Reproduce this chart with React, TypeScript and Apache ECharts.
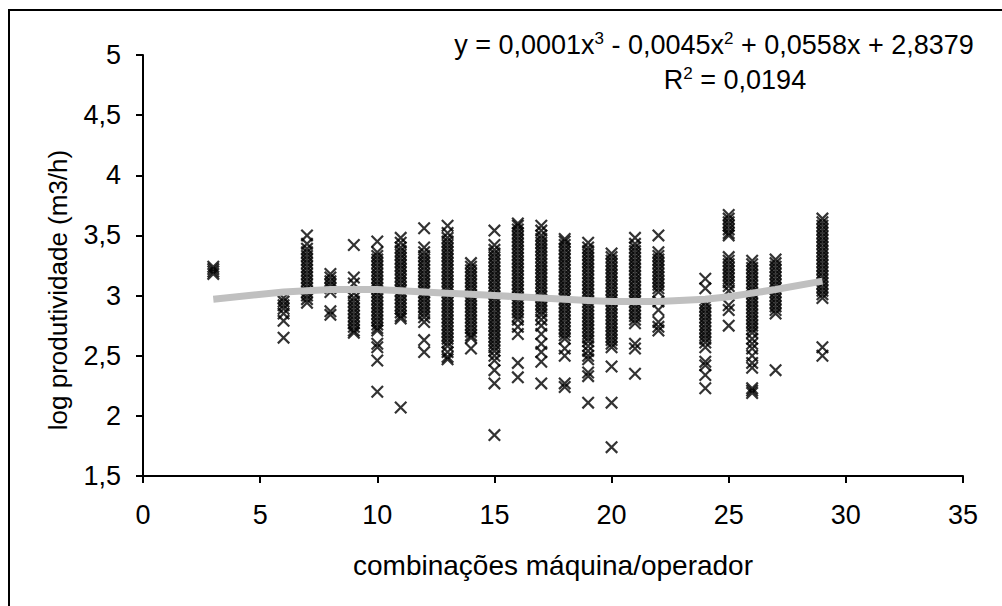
import React, { useEffect, useRef } from "react";
import * as echarts from "echarts";

// x categories (machine/operator combinations)
const xs = [3, 6, 7, 8, 9, 10, 11, 12, 13, 14, 15, 16, 17, 18, 19, 20, 21, 22, 24, 25, 26, 27, 29];

// log productivity values per combination
const y03 = [3.24, 3.22, 3.2, 3.18];
const y06 = [2.98, 2.95, 2.92, 2.89, 2.85, 2.79, 2.65];
const y07 = [3.5, 3.43, 3.39, 3.36, 3.33, 3.3, 3.27, 3.24, 3.21, 3.18, 3.15, 3.12, 3.09, 3.06, 3.03, 3.0, 2.97, 2.94];
const y08 = [3.18, 3.15, 3.12, 3.09, 3.06, 3.03, 2.87, 2.84];
const y09 = [3.42, 3.15, 3.1, 3.02, 2.98, 2.95, 2.92, 2.89, 2.86, 2.83, 2.8, 2.77, 2.74, 2.71, 2.69];
const y10 = [3.45, 3.36, 3.33, 3.3, 3.27, 3.24, 3.21, 3.18, 3.15, 3.12, 3.09, 3.06, 3.03, 3.0, 2.97, 2.94, 2.91, 2.88, 2.85, 2.82, 2.79, 2.76, 2.73, 2.71, 2.6, 2.57, 2.46, 2.2];
const y11 = [3.48, 3.44, 3.4, 3.37, 3.34, 3.31, 3.28, 3.25, 3.22, 3.19, 3.16, 3.13, 3.1, 3.07, 3.04, 3.01, 2.98, 2.95, 2.92, 2.89, 2.86, 2.83, 2.81, 2.07];
const y12 = [3.56, 3.4, 3.36, 3.33, 3.3, 3.27, 3.24, 3.21, 3.18, 3.15, 3.12, 3.09, 3.06, 3.03, 3.0, 2.97, 2.94, 2.91, 2.88, 2.85, 2.82, 2.78, 2.63, 2.53];
const y13 = [3.58, 3.52, 3.48, 3.45, 3.42, 3.39, 3.36, 3.33, 3.3, 3.27, 3.24, 3.21, 3.18, 3.15, 3.12, 3.09, 3.06, 3.03, 3.0, 2.97, 2.94, 2.91, 2.88, 2.85, 2.82, 2.79, 2.76, 2.73, 2.7, 2.67, 2.64, 2.61, 2.58, 2.53, 2.49, 2.47];
const y14 = [3.27, 3.24, 3.21, 3.18, 3.15, 3.12, 3.09, 3.06, 3.03, 3.0, 2.97, 2.94, 2.91, 2.88, 2.85, 2.82, 2.79, 2.76, 2.73, 2.7, 2.67, 2.65, 2.56];
const y15 = [3.54, 3.42, 3.38, 3.35, 3.32, 3.29, 3.26, 3.23, 3.2, 3.17, 3.14, 3.11, 3.08, 3.05, 3.02, 2.99, 2.96, 2.93, 2.9, 2.87, 2.84, 2.81, 2.78, 2.75, 2.72, 2.69, 2.66, 2.63, 2.6, 2.57, 2.54, 2.5, 2.46, 2.38, 2.27, 1.84];
const y16 = [3.6, 3.58, 3.55, 3.52, 3.49, 3.46, 3.43, 3.4, 3.37, 3.34, 3.31, 3.28, 3.25, 3.22, 3.19, 3.16, 3.13, 3.1, 3.07, 3.04, 3.01, 2.98, 2.95, 2.92, 2.89, 2.86, 2.83, 2.8, 2.74, 2.68, 2.44, 2.32];
const y17 = [3.58, 3.54, 3.5, 3.47, 3.44, 3.41, 3.38, 3.35, 3.32, 3.29, 3.26, 3.23, 3.2, 3.17, 3.14, 3.11, 3.08, 3.05, 3.02, 2.99, 2.96, 2.93, 2.9, 2.87, 2.84, 2.8, 2.75, 2.68, 2.6, 2.53, 2.45, 2.27];
const y18 = [3.47, 3.45, 3.42, 3.39, 3.36, 3.33, 3.3, 3.27, 3.24, 3.21, 3.18, 3.15, 3.12, 3.09, 3.06, 3.03, 3.0, 2.97, 2.94, 2.91, 2.88, 2.85, 2.82, 2.79, 2.76, 2.73, 2.7, 2.67, 2.64, 2.56, 2.5, 2.27, 2.24];
const y19 = [3.44, 3.4, 3.37, 3.34, 3.31, 3.28, 3.25, 3.22, 3.19, 3.16, 3.13, 3.1, 3.07, 3.04, 3.01, 2.98, 2.95, 2.92, 2.89, 2.86, 2.83, 2.8, 2.77, 2.74, 2.71, 2.68, 2.65, 2.62, 2.58, 2.54, 2.5, 2.47, 2.36, 2.33, 2.11];
const y20 = [3.35, 3.32, 3.29, 3.26, 3.23, 3.2, 3.17, 3.14, 3.11, 3.08, 3.05, 3.02, 2.99, 2.96, 2.93, 2.9, 2.87, 2.84, 2.81, 2.78, 2.75, 2.72, 2.69, 2.66, 2.63, 2.6, 2.57, 2.41, 2.11, 1.74];
const y21 = [3.48, 3.43, 3.4, 3.37, 3.34, 3.31, 3.28, 3.25, 3.22, 3.19, 3.16, 3.13, 3.1, 3.07, 3.04, 3.01, 2.98, 2.95, 2.92, 2.89, 2.86, 2.83, 2.8, 2.77, 2.6, 2.56, 2.35];
const y22 = [3.5, 3.36, 3.33, 3.3, 3.27, 3.24, 3.21, 3.18, 3.15, 3.12, 3.09, 3.06, 3.03, 2.95, 2.88, 2.78, 2.74, 2.71];
const y24 = [3.14, 3.06, 2.94, 2.91, 2.88, 2.85, 2.82, 2.79, 2.76, 2.73, 2.7, 2.67, 2.64, 2.61, 2.57, 2.45, 2.42, 2.34, 2.23];
const y25 = [3.67, 3.64, 3.61, 3.58, 3.55, 3.52, 3.5, 3.32, 3.29, 3.26, 3.23, 3.2, 3.17, 3.14, 3.11, 3.08, 3.04, 2.92, 2.88, 2.75];
const y26 = [3.29, 3.26, 3.23, 3.2, 3.17, 3.14, 3.11, 3.08, 3.05, 3.02, 2.99, 2.96, 2.93, 2.9, 2.87, 2.84, 2.81, 2.78, 2.75, 2.72, 2.69, 2.64, 2.6, 2.56, 2.5, 2.44, 2.4, 2.23, 2.21, 2.19];
const y27 = [3.3, 3.27, 3.24, 3.21, 3.18, 3.15, 3.12, 3.09, 3.06, 3.03, 3.0, 2.97, 2.94, 2.91, 2.88, 2.85, 2.38];
const y29 = [3.64, 3.61, 3.58, 3.55, 3.52, 3.49, 3.46, 3.43, 3.4, 3.37, 3.34, 3.31, 3.28, 3.25, 3.22, 3.19, 3.16, 3.13, 3.1, 3.07, 3.04, 3.01, 2.98, 2.57, 2.5];

const columns = [y03, y06, y07, y08, y09, y10, y11, y12, y13, y14, y15, y16, y17, y18, y19, y20, y21, y22, y24, y25, y26, y27, y29];

// polynomial trend line values read at each x category
const trendY = [2.97, 3.03, 3.04, 3.05, 3.05, 3.05, 3.04, 3.03, 3.02, 3.01, 3.0, 2.99, 2.98, 2.97, 2.96, 2.95, 2.95, 2.95, 2.97, 2.99, 3.02, 3.05, 3.12];

const equationText = "y = 0,0001x{s|3} - 0,0045x{s|2} + 0,0558x + 2,8379";
const r2Text = "R{s|2} = 0,0194";

const FONT = "'Liberation Sans', Arial, sans-serif";
const X_SYMBOL = "path://M0,12 L12,0 L100,88 L88,100 Z M88,0 L100,12 L12,100 L0,88 Z";

export default function App() {
  const ref = useRef<HTMLDivElement>(null);
  useEffect(() => {
    if (!ref.current) return;
    const chart = echarts.init(ref.current, null, { renderer: "svg" });
    const scatterData: number[][] = [];
    columns.forEach((col, i) => col.forEach((v) => scatterData.push([xs[i], v])));
    const trendData = xs.map((x, i) => [x, trendY[i]]);
    const sup = { fontSize: 17, verticalAlign: "top", lineHeight: 12, fontFamily: FONT, color: "#000" };
    chart.setOption({
      animation: false,
      backgroundColor: "#fff",
      grid: { left: 143, right: 39, top: 55, bottom: 130, containLabel: false },
      xAxis: {
        type: "value",
        min: 0,
        max: 35,
        interval: 5,
        name: "combinações máquina/operador",
        nameLocation: "middle",
        nameGap: 75,
        nameTextStyle: { fontSize: 28, color: "#000", fontFamily: FONT },
        axisLine: { show: true, onZero: false, lineStyle: { color: "#000", width: 2 } },
        axisTick: { show: true, length: 7, lineStyle: { color: "#000", width: 2 } },
        axisLabel: { fontSize: 27, color: "#000", fontFamily: FONT, margin: 25 },
        splitLine: { show: false },
      },
      yAxis: {
        type: "value",
        min: 1.5,
        max: 5,
        interval: 0.5,
        axisLine: { show: true, onZero: false, lineStyle: { color: "#000", width: 2 } },
        axisTick: { show: true, length: 7, lineStyle: { color: "#000", width: 2 } },
        axisLabel: {
          fontSize: 27,
          color: "#000",
          fontFamily: FONT,
          margin: 22,
          formatter: (v: number) => String(v).replace(".", ","),
        },
        splitLine: { show: false },
      },
      graphic: [
        {
          type: "rect",
          shape: { x: 9, y: 10, width: 1100, height: 700 },
          style: { fill: "none", stroke: "#000", lineWidth: 2 },
          silent: true,
        },
        {
          type: "text",
          x: 58,
          y: 290,
          rotation: Math.PI / 2,
          style: {
            text: "log produtividade (m3/h)",
            fontSize: 26,
            fontFamily: FONT,
            fill: "#000",
            align: "center",
            verticalAlign: "middle",
          },
        },
        {
          type: "text",
          x: 714,
          y: 45,
          style: {
            text: equationText,
            fontSize: 27,
            fontFamily: FONT,
            fill: "#000",
            align: "center",
            verticalAlign: "middle",
            lineHeight: 30,
            rich: { s: sup },
          },
        },
        {
          type: "text",
          x: 735,
          y: 80,
          style: {
            text: r2Text,
            fontSize: 27,
            fontFamily: FONT,
            fill: "#000",
            align: "center",
            verticalAlign: "middle",
            lineHeight: 30,
            rich: { s: sup },
          },
        },
      ],
      series: [
        {
          type: "scatter",
          data: scatterData,
          symbol: X_SYMBOL,
          symbolSize: 13,
          itemStyle: { color: "#000" },
          z: 2,
        },
        {
          type: "line",
          data: trendData,
          symbol: "none",
          lineStyle: { color: "#c0c0c0", width: 7 },
          z: 3,
        },
      ],
    });
    return () => chart.dispose();
  }, []);
  return <div ref={ref} style={{ position: "fixed", left: 0, top: 0, width: 1002, height: 606 }} />;
}
